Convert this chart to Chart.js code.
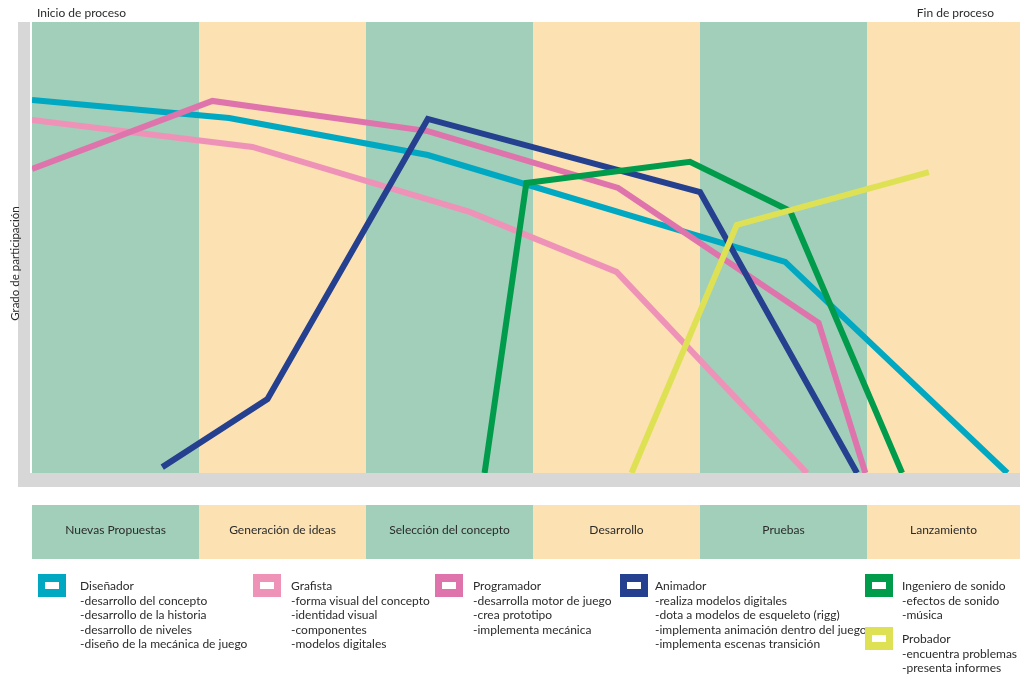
<!DOCTYPE html>
<html lang="es">
<head>
<meta charset="utf-8">
<title>Grado de participación por rol</title>
<script src="https://cdn.jsdelivr.net/npm/chart.js@4.4.1/dist/chart.umd.min.js"></script>
<style>
  html, body { margin: 0; padding: 0; background: #fff; overflow: hidden; }
  #wrap { position: relative; width: 1020px; height: 674px; }
  #chart { position: absolute; left: 0; top: 0; }
  .key { position: absolute; box-sizing: border-box; width: 28px; height: 23px; border-style: solid; border-width: 8px 7px; background: #fff; }
  .txt { position: absolute; font: 12px Lato, sans-serif; line-height: 14.5px; color: #2b2b2b; white-space: nowrap; }
</style>
</head>
<body>
<div id="wrap">
  <canvas id="chart" width="1020" height="674"></canvas>
  <div id="legend"></div>
</div>
<script>
const stages = ["Nuevas Propuestas", "Generación de ideas", "Selección del concepto", "Desarrollo", "Pruebas", "Lanzamiento"];
const bandColors = ["#a1cfba", "#fce1b3"];

const roles = ["Diseñador", "Grafista", "Programador", "Animador", "Ingeniero de sonido", "Probador"];
const roleColors = ["#00a8c2", "#ee93b7", "#df74ac", "#25408f", "#009c4b", "#dfe155"];
const roleTasks = [
  ["-desarrollo del concepto", "-desarrollo de la historia", "-desarrollo de niveles", "-diseño de la mecánica de juego"],
  ["-forma visual del concepto", "-identidad visual", "-componentes", "-modelos digitales"],
  ["-desarrolla motor de juego", "-crea prototipo", "-implementa mecánica"],
  ["-realiza modelos digitales", "-dota a modelos de esqueleto (rigg)", "-implementa animación dentro del juego", "-implementa escenas transición"],
  ["-efectos de sonido", "-música"],
  ["-encuentra problemas", "-presenta informes"]
];

// x: position along the process in stage units (0 = inicio, 6 = fin)
// y: grado de participación, 0..100
const disenador = [[0, 82.7], [1.18, 78.7], [2.37, 70.5], [4.51, 46.8], [5.84, 0]];
const grafista = [[0, 78.3], [1.32, 72.3], [2.62, 57.9], [3.50, 44.6], [4.64, 0]];
const programador = [[0, 67.4], [1.08, 82.5], [2.37, 75.8], [3.51, 63.2], [4.71, 33.3], [4.99, 0]];
const animador = [[0.78, 1.3], [1.41, 16.4], [2.37, 78.5], [4.00, 62.3], [4.94, 0]];
const sonido = [[2.71, 0], [2.96, 64.3], [3.94, 69.0], [4.54, 58.1], [5.21, 0]];
const probador = [[3.59, 0], [4.22, 55.0], [5.37, 66.7]];
const series = [disenador, grafista, programador, animador, sonido, probador];
// lower order is drawn on top
const drawOrder = [5, 6, 4, 3, 2, 1];

const FONT = "Lato, sans-serif";

const backdrop = {
  id: "backdrop",
  beforeDatasetsDraw(chart) {
    const { ctx, chartArea: a, scales: { x } } = chart;
    ctx.save();
    ctx.fillStyle = "#d7d7d7";
    ctx.fillRect(a.left - 14, a.top, 12, a.bottom + 14 - a.top);
    ctx.fillRect(a.left - 14, a.bottom, chart.width, 14);

    ctx.font = "12px " + FONT;
    ctx.textAlign = "center";
    ctx.textBaseline = "middle";
    stages.forEach((name, i) => {
      const x0 = x.getPixelForValue(i);
      const x1 = x.getPixelForValue(i + 1);
      ctx.fillStyle = bandColors[i % 2];
      ctx.fillRect(x0, a.top, x1 - x0, a.bottom - a.top);
      ctx.fillRect(x0, a.bottom + 32, x1 - x0, 54);
      ctx.fillStyle = "#2b2b2b";
      ctx.fillText(name, (Math.max(x0, a.left) + Math.min(x1, a.right)) / 2, a.bottom + 57);
    });

    ctx.fillStyle = "#2b2b2b";
    ctx.textAlign = "left";
    ctx.fillText("Inicio de proceso", a.left + 5, a.top - 9);
    ctx.textAlign = "right";
    ctx.fillText("Fin de proceso", x.getPixelForValue(5.76), a.top - 9);

    ctx.translate(a.left - 17, (a.top + a.bottom) / 2 + 16);
    ctx.rotate(-Math.PI / 2);
    ctx.textAlign = "center";
    ctx.font = "11.5px " + FONT;
    ctx.fillText("Grado de participación", 0, 0);
    ctx.restore();
  }
};

const chart = new Chart(document.getElementById("chart"), {
  type: "line",
  plugins: [backdrop],
  data: {
    datasets: series.map((pts, i) => ({
      label: roles[i],
      data: pts.map(([x, y]) => ({ x, y })),
      borderColor: roleColors[i],
      borderWidth: 6,
      borderJoinStyle: "miter",
      pointRadius: 0,
      tension: 0,
      fill: false,
      order: drawOrder[i]
    }))
  },
  options: {
    responsive: false,
    animation: false,
    events: [],
    layout: { padding: { left: 32, top: 22, right: 0, bottom: 201 } },
    scales: {
      x: { type: "linear", min: 0, max: 5.916, display: false },
      y: { min: 0, max: 100, display: false }
    },
    plugins: {
      legend: { display: false },
      tooltip: { enabled: false }
    }
  }
});

// legend: one hollow swatch and a text block per role
const legendSpots = [[38, 574, 80, 579], [253, 574, 291, 579], [435, 574, 473, 579], [620, 574, 655, 579], [865, 574, 902, 579], [865, 627, 902, 632]];
const legend = document.getElementById("legend");
roles.forEach((role, i) => {
  const [kx, ky, tx, ty] = legendSpots[i];
  const key = document.createElement("div");
  key.className = "key";
  key.style.left = kx + "px";
  key.style.top = ky + "px";
  key.style.borderColor = roleColors[i];
  legend.appendChild(key);

  const txt = document.createElement("div");
  txt.className = "txt";
  txt.style.left = tx + "px";
  txt.style.top = ty + "px";
  txt.innerHTML = [role, ...roleTasks[i]].join("<br>");
  legend.appendChild(txt);
});
</script>
</body>
</html>
